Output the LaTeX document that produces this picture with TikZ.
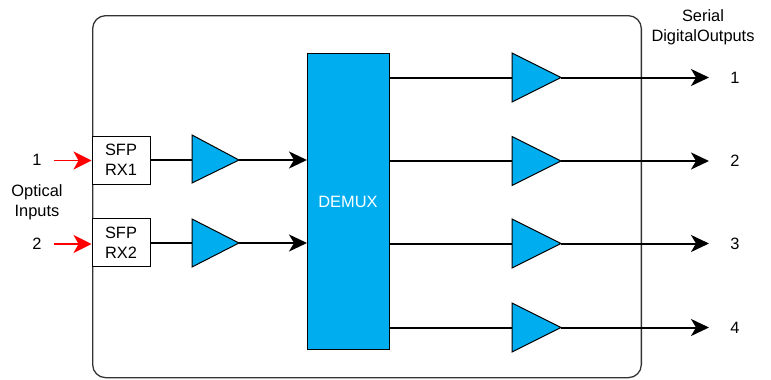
\documentclass[tikz,border=0pt]{standalone}
\usepackage{fontspec}
\setmainfont{Liberation Sans}
\usetikzlibrary{arrows.meta}
\definecolor{cy}{HTML}{00AEEF}
\definecolor{boxgray}{HTML}{333333}
\begin{document}
\begin{tikzpicture}[x=1pt,y=-1pt,
  txt/.style={font=\fontsize{16.4}{20}\selectfont, align=center, inner sep=0pt},
  sfp/.style={draw=black, line width=1pt, fill=white, minimum width=58pt, minimum height=48pt, inner sep=0pt, align=center, font=\fontsize{16.4}{20}\selectfont},
  amp/.style={draw=black, line width=1pt, fill=cy},
  wire/.style={line width=2pt, black},
  arr/.style={wire, -{Stealth[length=18pt,width=17pt,inset=5pt]}},
  redarr/.style={line width=1.5pt, red, -{Stealth[length=18pt,width=18pt,inset=5pt]}}
]
\useasboundingbox (0,0) rectangle (771,380);
% main enclosure
\node[draw=boxgray, line width=1.3pt, rounded corners=13pt, minimum width=548.7pt, minimum height=362pt, anchor=north west, inner sep=0pt] (enc) at (92,15) {};
% SFP boxes
\node[sfp] (sfp1) at (121,160) {SFP\\RX1};
\node[sfp] (sfp2) at (121,242.5) {SFP\\RX2};
% input labels
\node[txt] (in1) at (37,160) {1};
\node[txt] (in2) at (37,244) {2};
\node[txt] (optl) at (37,202) {Optical\\Inputs};
\coordinate (r1) at (54,160.5);
\coordinate (r2) at (54,244);
\draw[redarr] (r1) -- (sfp1.west |- r1);
\draw[redarr] (r2) -- (sfp2.west |- r2);
% input amplifiers
\path[amp] (192,135) -- (239,160) -- (192,183) -- cycle;
\coordinate (a1in) at (192,160);
\coordinate (a1out) at (239,160);
\path[amp] (192,219) -- (239,243) -- (192,267) -- cycle;
\coordinate (a2in) at (192,243);
\coordinate (a2out) at (239,243);
% DEMUX
\node[draw=black, line width=1pt, fill=cy, minimum width=82pt, minimum height=296pt, anchor=north west, inner sep=0pt] (demux) at (307,53) {};
\node[txt, text=white] (dlab) at (348,202) {DEMUX};
\draw[wire] (sfp1.east |- a1in) -- (a1in);
\draw[wire] (sfp2.east |- a2in) -- (a2in);
\draw[arr] (a1out) -- (demux.west |- a1out);
\draw[arr] (a2out) -- (demux.west |- a2out);
% output amplifiers
\foreach \i/\y in {1/77.5,2/161,3/243.5,4/327.5}{
  \path[amp] (512,\y-24.5) -- (561,\y) -- (512,\y+24.5) -- cycle;
  \coordinate (o\i in) at (512,\y);
  \coordinate (o\i out) at (561,\y);
  \coordinate (o\i end) at (709,\y);
  \draw[wire] (demux.east |- o\i in) -- (o\i in);
  \draw[arr] (o\i out) -- (o\i end);
  \node[txt] (ol\i) at (735,\y) {\i};
}
\node[txt] (serial) at (703,27.5) {Serial\\DigitalOutputs};
\end{tikzpicture}
\end{document}
